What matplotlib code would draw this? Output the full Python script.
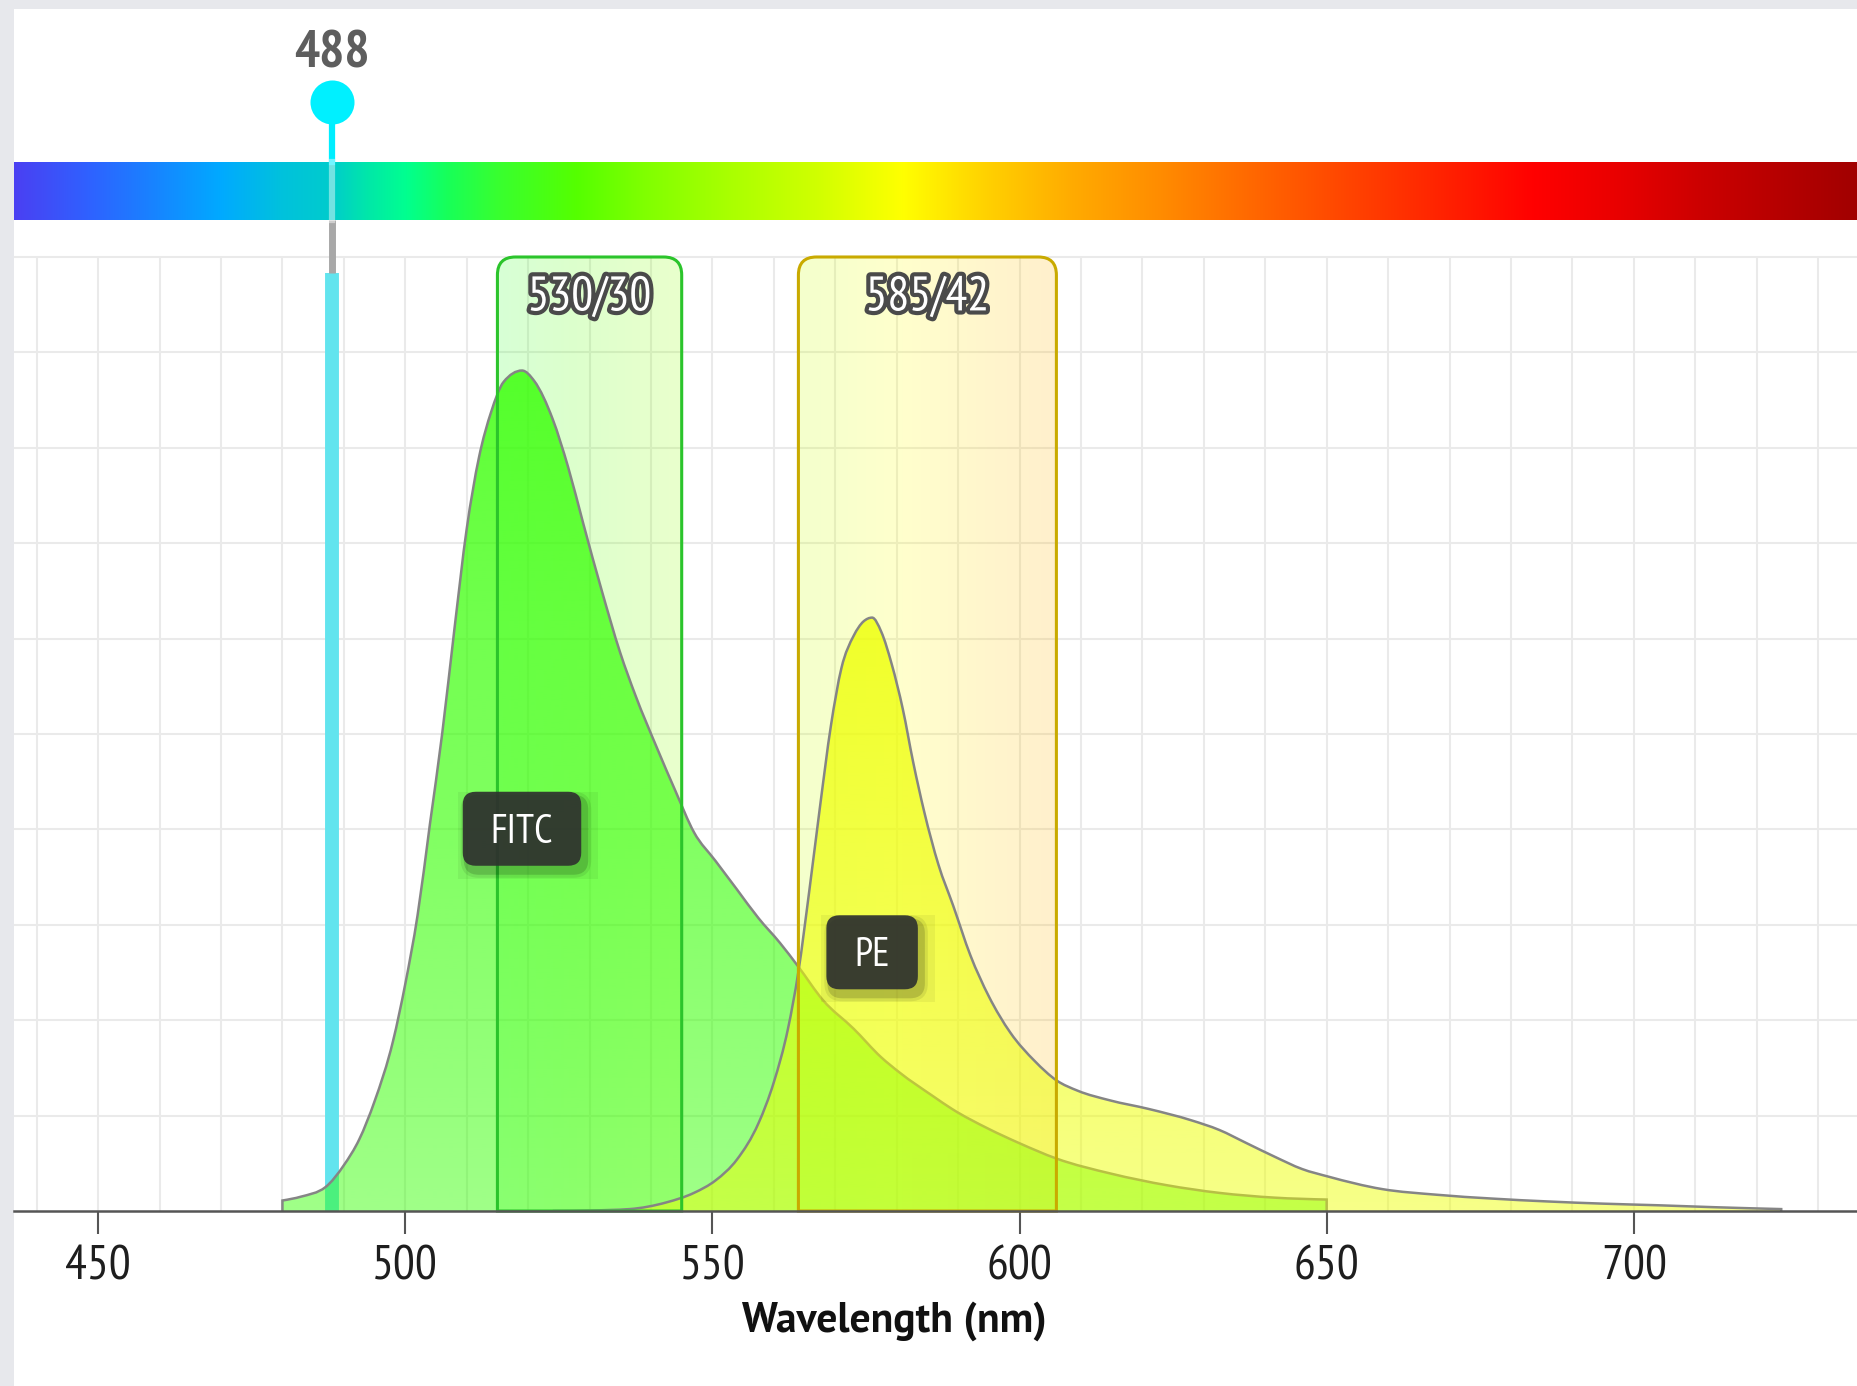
import numpy as np
import matplotlib
matplotlib.use('Agg')
import matplotlib.pyplot as plt
import matplotlib.patheffects as pe
from matplotlib.path import Path
from matplotlib.patches import PathPatch, FancyBboxPatch, Rectangle
from matplotlib.transforms import IdentityTransform
from matplotlib.colors import to_rgb

# --- Data ---
FITC_WL = [480, 483, 487, 490, 492.5, 495, 498, 500, 502, 504, 506, 508, 510,
           512, 514, 516, 519, 521, 524, 526.5, 529, 532, 535, 537.5, 541, 544, 547,
           550.5, 554, 557.5, 561, 564, 568, 573, 577.5, 580.5, 586, 589, 595, 600,
           606, 615, 624, 632.5, 641.5, 650]
FITC_VAL = [1.1, 1.5, 2.5, 4.8, 7.5, 11.5, 17.8, 23.8, 31, 40.5, 50, 61, 71.5,
            79, 83.8, 86.9, 88.1, 87, 83, 78, 72, 65, 58.5, 54, 48.5, 44, 39.7,
            36.7, 33.7, 30.7, 28.1, 25.6, 22.1, 19.1, 16.1, 14.5, 12.0, 10.7, 8.6, 7.1,
            5.5, 3.9, 2.7, 1.9, 1.4, 1.2]

PE_WL = [524, 530, 536.5, 542.5, 547, 550.5, 554, 557.5, 560, 562.3, 564, 565.8,
         567.5, 569.3, 571, 573, 574.6, 576, 577.5, 579.2, 581, 582.7, 584.5, 586.8,
         589.2, 592, 595, 598.5, 602.5, 606, 609.5, 614.7, 621, 628, 632.5, 637,
         641.5, 646, 650.3, 659, 668, 677, 686, 695, 704, 713, 724]
PE_VAL = [0, 0.05, 0.2, 0.9, 1.9, 3.2, 5.4, 9.2, 13.5, 19.1, 25.1, 33.7,
          42.3, 50.9, 56.9, 60.3, 61.8, 62.2, 60.7, 57.3, 52.6, 47, 41.8, 36.3,
          32, 26.8, 22.5, 18.7, 15.7, 13.7, 12.6, 11.6, 10.7, 9.5, 8.5, 7.1,
          5.7, 4.4, 3.6, 2.3, 1.7, 1.3, 1.0, 0.77, 0.6, 0.4, 0.2]

DYE_NAMES = ['FITC', 'PE']
DYE_COLORS = ['#33ff00', '#eeff00']

LASER_WL = 488
FILTER_CENTERS = [530, 585]
FILTER_WIDTHS = [30, 42]
FILTER_EDGES = ['#2bc42b', '#c9aa00']

X_TICKS = [450, 500, 550, 600, 650, 700]

SPECTRUM_WL = [436, 448, 458, 470, 480, 488, 494, 500, 507, 515, 528, 539, 553,
               567, 581, 595, 609, 623, 637, 651, 670, 684, 698, 711, 737]
SPECTRUM_COLORS = ['#4b3ff2', '#3060ff', '#1a80ff', '#00aaff', '#00c2dc', '#00cccc',
                   '#00e8a8', '#00ff90', '#18ff58', '#38ff30', '#55ff00', '#80ff00',
                   '#aaff00', '#d0ff00', '#ffff00', '#ffd000', '#ffaa00', '#ff8c00',
                   '#ff6a00', '#ff4a00', '#ff2000', '#ff0000', '#e80000', '#cc0000',
                   '#a00000']

# --- Layout (pixels) ---
W, H, DPI = 1858, 1386, 100
XMIN, XMAX = 436.3, 736.5
YMAX = 100
PLOT_LEFT, PLOT_TOP, PLOT_BOTTOM = 14, 257, 1211
BAR_TOP, BAR_BOTTOM = 162, 220

plt.rcParams['font.family'] = ['PT Sans Narrow', 'Roboto Condensed', 'DejaVu Sans']


def monotone_path(xs, ys, close=True):
    """Smooth monotone-x cubic through the read points (like d3 monotoneX)."""
    x = np.asarray(xs, float)
    y = np.asarray(ys, float)
    h = np.diff(x)
    s = np.diff(y) / h
    n = len(x)
    m = np.zeros(n)
    for i in range(1, n - 1):
        p = (s[i - 1] * h[i] + s[i] * h[i - 1]) / (h[i - 1] + h[i])
        m[i] = (np.sign(s[i - 1]) + np.sign(s[i])) * min(abs(s[i - 1]), abs(s[i]), 0.5 * abs(p))
    m[0] = (3 * s[0] - m[1]) / 2
    m[-1] = (3 * s[-1] - m[-2]) / 2
    verts = [(x[0], 0), (x[0], y[0])]
    codes = [Path.MOVETO, Path.LINETO]
    for i in range(n - 1):
        d = h[i] / 3
        verts += [(x[i] + d, y[i] + m[i] * d), (x[i + 1] - d, y[i + 1] - m[i + 1] * d),
                  (x[i + 1], y[i + 1])]
        codes += [Path.CURVE4] * 3
    verts.append((x[-1], 0))
    codes.append(Path.LINETO)
    if close:
        verts.append((x[0], 0))
        codes.append(Path.CLOSEPOLY)
    return Path(verts, codes)


fig = plt.figure(figsize=(W / DPI, H / DPI), dpi=DPI)
fig.patch.set_facecolor('#e7e8ec')
fig.add_artist(Rectangle((PLOT_LEFT / W, 0), 1 - PLOT_LEFT / W, 1 - 9 / H,
                         transform=fig.transFigure, facecolor='white',
                         edgecolor='none', zorder=-10))

ax = fig.add_axes([PLOT_LEFT / W, (H - PLOT_BOTTOM) / H,
                   (W - PLOT_LEFT) / W, (PLOT_BOTTOM - PLOT_TOP) / H])
ax.patch.set_visible(False)
ax.set_xlim(XMIN, XMAX)
ax.set_ylim(0, YMAX)

# spectrum colours as an image row
wl_grid = np.linspace(XMIN, XMAX, 1500)
spec_rgb = np.stack([np.interp(wl_grid, SPECTRUM_WL, [to_rgb(c)[i] for c in SPECTRUM_COLORS])
                     for i in range(3)], axis=-1)[None, :, :]

# grid
ax.vlines(np.arange(440, 731, 10), 0, YMAX, color='#eaeaea', lw=1.5, zorder=0, clip_on=False)
ax.hlines(np.arange(10, 101, 10), XMIN, XMAX, color='#eaeaea', lw=1.5, zorder=0, clip_on=False)

# px per data unit, used for rounded corners
sx = (W - PLOT_LEFT) / (XMAX - XMIN)
sy = (PLOT_BOTTOM - PLOT_TOP) / YMAX
rx, ry = 18 / sx, 18 / sy

# filter boxes
for c, w, ec in zip(FILTER_CENTERS, FILTER_WIDTHS, FILTER_EDGES):
    x0, x1 = c - w / 2, c + w / 2
    verts = [(x0, 0), (x0, YMAX - ry), (x0, YMAX), (x0 + rx, YMAX),
             (x1 - rx, YMAX), (x1, YMAX), (x1, YMAX - ry), (x1, 0), (x0, 0)]
    codes = [Path.MOVETO, Path.LINETO, Path.CURVE3, Path.CURVE3,
             Path.LINETO, Path.CURVE3, Path.CURVE3, Path.LINETO, Path.CLOSEPOLY]
    path = Path(verts, codes)
    clip = PathPatch(path, facecolor='none', edgecolor='none', transform=ax.transData)
    ax.add_patch(clip)
    im = ax.imshow(spec_rgb, extent=(XMIN, XMAX, 0, YMAX), aspect='auto',
                   alpha=0.2, zorder=1)
    im.set_clip_path(clip)
    ax.add_patch(PathPatch(path, facecolor='none', edgecolor=ec, lw=2.2,
                           zorder=5, clip_on=False))
    ax.text(c, 94.4, f'{c}/{w}', ha='center', va='baseline', color='white',
            fontsize=35, zorder=6,
            path_effects=[pe.withStroke(linewidth=6, foreground='#4a4a4a')])

# laser line inside the plot
ax.plot([LASER_WL, LASER_WL], [0, 98.3], color='#62e4ee', lw=10,
        solid_capstyle='butt', zorder=2)


def gradient_fill(x, y, color, z):
    area = PathPatch(monotone_path(x, y), facecolor='none', edgecolor='none')
    ax.add_patch(area)
    r, g, b = to_rgb(color)
    n = 256
    img = np.zeros((n, 1, 4))
    img[..., 0], img[..., 1], img[..., 2] = r, g, b
    img[:, 0, 3] = np.linspace(0.47, 0.8, n)
    im = ax.imshow(img, extent=(min(x), max(x), 0, max(y)), origin='lower',
                   aspect='auto', interpolation='bilinear', zorder=z)
    im.set_clip_path(area)
    ax.add_patch(PathPatch(monotone_path(x, y, close=False), facecolor='none',
                           edgecolor='#858585', lw=1.8, zorder=z + 0.1))


gradient_fill(FITC_WL, FITC_VAL, DYE_COLORS[0], 3)
gradient_fill(PE_WL, PE_VAL, DYE_COLORS[1], 4)

ax.set_xlim(XMIN, XMAX)
ax.set_ylim(0, YMAX)

# axes styling
for s in ['left', 'right', 'top']:
    ax.spines[s].set_visible(False)
ax.spines['bottom'].set_color('#555555')
ax.spines['bottom'].set_linewidth(1.8)
ax.spines['bottom'].set_zorder(8)
ax.set_yticks([])
ax.set_xticks(X_TICKS)
ax.tick_params(axis='x', direction='out', length=16.5, width=1.5, color='#555555',
               pad=8, labelsize=35, labelcolor='#1e1e1e')
fig.text(894 / W, 1 - 1321 / H, 'Wavelength (nm)', ha='center', va='center',
         fontsize=30, fontweight='bold', color='#111111',
         family=['PT Sans', 'DejaVu Sans'])

# dye labels (dark rounded tags), centred a little below half maximum
renderer = fig.canvas.get_renderer()
for name, wl, val in zip(DYE_NAMES, [FITC_WL, PE_WL], [FITC_VAL, PE_VAL]):
    i = int(np.argmax(val))
    cx, cy = ax.transData.transform((wl[i], val[i] / 2))
    cy -= 38
    fs = 29
    cap = 0.7 * fs * DPI / 72
    tx, ty = ax.transData.inverted().transform((cx, cy - cap / 2))
    t = ax.text(tx, ty, name, ha='center', va='baseline', color='white',
                fontsize=fs, zorder=12)
    bb = t.get_window_extent(renderer=renderer)
    bw, bh = bb.width + 56, 74
    ax.add_patch(Rectangle((cx - bw / 2 - 5, cy - bh / 2 - 13), bw + 22, bh + 13,
                           transform=IdentityTransform(), facecolor='black',
                           alpha=0.05, edgecolor='none', zorder=10))
    for grow, a in [(6, 0.08), (3, 0.15)]:
        ax.add_patch(FancyBboxPatch((cx - bw / 2 + 4 - grow, cy - bh / 2 - 6 - grow),
                                    bw + 2 * grow, bh + 2 * grow,
                                    boxstyle=f'round,pad=0,rounding_size={12 + grow}',
                                    transform=IdentityTransform(), facecolor='black',
                                    alpha=a, edgecolor='none', zorder=10.5))
    ax.add_patch(FancyBboxPatch((cx - bw / 2, cy - bh / 2), bw, bh,
                                boxstyle='round,pad=0,rounding_size=13',
                                transform=IdentityTransform(), facecolor='#2f322f',
                                alpha=0.92, edgecolor='none', zorder=11))

# top strip: spectrum bar and laser marker (y in pixels from top)
ax_top = fig.add_axes([PLOT_LEFT / W, 0, (W - PLOT_LEFT) / W, 1])
ax_top.set_zorder(2)
ax_top.axis('off')
ax_top.imshow(spec_rgb, extent=(XMIN, XMAX, BAR_BOTTOM, BAR_TOP), aspect='auto')
ax_top.plot([LASER_WL, LASER_WL], [102, BAR_TOP], color='#00eeff', lw=4.5, zorder=2)
ax_top.plot([LASER_WL, LASER_WL], [BAR_TOP, BAR_BOTTOM], color='white', alpha=0.45,
            lw=4.5, zorder=3)
ax_top.plot([LASER_WL, LASER_WL], [BAR_BOTTOM, 273], color='#a8a8a8', lw=5,
            solid_capstyle='butt', zorder=2, clip_on=False)
ax_top.plot([LASER_WL], [102], 'o', ms=31.7, color='#00f0ff', mec='none', zorder=4)
ax_top.text(LASER_WL, 55, str(LASER_WL), ha='center', va='center', fontsize=38,
            fontweight='bold', color='#5e5e5e')
ax_top.set_xlim(XMIN, XMAX)
ax_top.set_ylim(H, 0)

fig.savefig('out.png', dpi=DPI, facecolor=fig.get_facecolor())
